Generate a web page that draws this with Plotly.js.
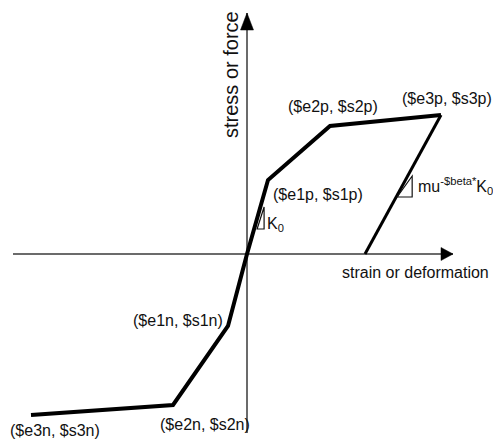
<!DOCTYPE html>
<html>
<head>
<meta charset="utf-8">
<script src="https://cdn.plot.ly/plotly-3.0.1.min.js"></script>
<style>html,body{margin:0;padding:0;background:#fff;}#chart{width:493px;height:441px;}</style>
</head>
<body>
<div id="chart"></div>
<script>
// Backbone points (strain, stress) from negative to positive side
const strain = [-21.6, -7.4, -1.9, 0, 2.1, 8.3, 19.4];
const stress = [-16.1, -15.1, -7.2, 0, 7.4, 12.8, 13.9];
const pointLabels = ['($e3n, $s3n)', '($e2n, $s2n)', '($e1n, $s1n)', '', '($e1p, $s1p)', '($e2p, $s2p)', '($e3p, $s3p)'];
// Unloading branch from ($e3p, $s3p) down to zero stress
const unloadStrain = [19.4, 11.8];
const unloadStress = [13.9, 0];
// Axis extents
const axisStrain = [-23.4, 20.6];
const axisStress = [-17.9, 24.1];
const axisTitles = ['strain or deformation', 'stress or force'];
const slopeLabels = ['K<sub>0</sub>', 'mu<sup>-$beta*</sup>K<sub>0</sub>'];

const family = 'Liberation Sans, Arial, sans-serif';
const ink = '#111111';
const axisInk = '#3a3a3a';

const traces = [
  {x: [axisStrain[0], axisStrain[1]], y: [0, 0], mode: 'lines', line: {color: axisInk, width: 1.5}, hoverinfo: 'skip'},
  {x: [0, 0], y: [axisStress[0], axisStress[1]], mode: 'lines', line: {color: axisInk, width: 1.5}, hoverinfo: 'skip'},
  {x: strain, y: stress, mode: 'lines', line: {color: '#000', width: 4}, hoverinfo: 'skip'},
  {x: unloadStrain, y: unloadStress, mode: 'lines', line: {color: '#000', width: 3}, hoverinfo: 'skip'}
];

// label pixel offsets (style)
const shifts = [[24, -15], [32, -19], [-50, 6], [0, 0], [50, -14], [3, 20], [6, 17]];
const annotations = [];
pointLabels.forEach((t, i) => {
  if (!t) return;
  annotations.push({x: strain[i], y: stress[i], xref: 'x', yref: 'y', text: t, showarrow: false,
    xshift: shifts[i][0], yshift: shifts[i][1], font: {family: family, size: 16, color: ink}});
});
annotations.push({x: axisStrain[1], y: 0, xref: 'x', yref: 'y', text: axisTitles[0], showarrow: false,
  xshift: -38, yshift: -18, font: {family: family, size: 16, color: ink}});
annotations.push({x: 0, y: axisStress[1], xref: 'x', yref: 'y', text: axisTitles[1], showarrow: false, textangle: -90,
  xshift: -16, yshift: -62, font: {family: family, size: 20, color: ink}});

// slope triangles: anchored on points along the branches
const tK = 2.5 / stress[4];
const k0x = strain[3] + tK * (strain[4] - strain[3]);
const k0y = stress[3] + tK * (stress[4] - stress[3]);
const tU = (unloadStress[0] - 5.7) / (unloadStress[0] - unloadStress[1]);
const mux = unloadStrain[0] + tU * (unloadStrain[1] - unloadStrain[0]);
const muy = unloadStress[0] + tU * (unloadStress[1] - unloadStress[0]);

annotations.push({x: k0x, y: k0y, xref: 'x', yref: 'y', text: slopeLabels[0], showarrow: false,
  xanchor: 'left', xshift: 11, yshift: 5, font: {family: family, size: 16, color: ink}});
annotations.push({x: mux, y: muy, xref: 'x', yref: 'y', text: slopeLabels[1], showarrow: false,
  xanchor: 'left', xshift: 20, yshift: 11, font: {family: family, size: 16, color: ink}});

const shapes = [
  {type: 'path', xref: 'x', yref: 'y', xsizemode: 'pixel', ysizemode: 'pixel', xanchor: 0, yanchor: axisStress[1],
   path: 'M 0,0 L -6.5,-17 L 6.5,-17 Z', fillcolor: '#000', line: {color: '#000', width: 0.5}},
  {type: 'path', xref: 'x', yref: 'y', xsizemode: 'pixel', ysizemode: 'pixel', xanchor: axisStrain[1], yanchor: 0,
   path: 'M 0,0 L -12,6.5 L -12,-6.5 Z', fillcolor: '#000', line: {color: '#000', width: 0.5}},
  {type: 'path', xref: 'x', yref: 'y', xsizemode: 'pixel', ysizemode: 'pixel', xanchor: k0x, yanchor: k0y,
   path: 'M 3,0 L 10,0 L 10,22 Z', line: {color: ink, width: 1.2}},
  {type: 'path', xref: 'x', yref: 'y', xsizemode: 'pixel', ysizemode: 'pixel', xanchor: mux, yanchor: muy,
   path: 'M 1,0 L 16,0 L 16,21 Z', line: {color: ink, width: 1.2}}
];

const layout = {
  width: 493, height: 441,
  margin: {l: 0, r: 0, t: 0, b: 0},
  paper_bgcolor: '#fff', plot_bgcolor: '#fff',
  showlegend: false,
  xaxis: {range: [-24.7, 24.6], visible: false, fixedrange: true},
  yaxis: {range: [-18.7, 25.4], visible: false, fixedrange: true},
  annotations: annotations,
  shapes: shapes
};
Plotly.newPlot('chart', traces, layout, {displayModeBar: false, staticPlot: true});
</script>
</body>
</html>
